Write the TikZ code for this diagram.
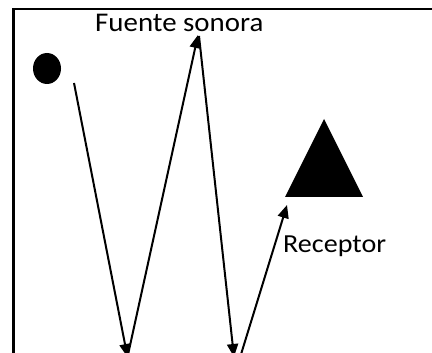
\documentclass[tikz,border=0pt]{standalone}
\usepackage{fontspec}
\setmainfont{Carlito}
\usetikzlibrary{arrows.meta,shapes.geometric}
\begin{document}
\begin{tikzpicture}[x=1pt,y=-1pt,
  ray/.style={line width=2pt,-{Triangle[length=13pt,width=11pt]}},
  frame/.style={line width=2.2pt},
  lbl/.style={inner sep=0pt,anchor=base west}]
\useasboundingbox (0,0) rectangle (432,353);
\draw[frame] (13.5,353) -- (13.5,9) -- (433,9);
\node[ellipse,fill=black,minimum width=28pt,minimum height=31pt,inner sep=0pt] (src) at (47,68.5) {};
\fill (324,119) -- (363,197) -- (285,197) -- cycle;
\coordinate (rcv) at (324,160);
\node[lbl] (fuente) at (95,31.7) {\fontsize{27}{32}\selectfont\scalebox{1.07}[1]{Fuente sonora}};
\node[lbl] (receptor) at (283,253) {\fontsize{26}{31}\selectfont\scalebox{1.08}[1]{Receptor}};
\coordinate (p0) at (74,83);
\coordinate (f1) at (127.5,357);
\coordinate (c1) at (198,35);
\coordinate (s1) at (199,36);
\coordinate (f2) at (234,357);
\coordinate (s2) at (240.5,356);
\coordinate (r1) at (287,205);
\draw[ray] (p0) -- (f1);
\draw[ray] (f1) -- (c1);
\draw[ray] (s1) -- (f2);
\draw[ray] (s2) -- (r1);
\end{tikzpicture}
\end{document}
